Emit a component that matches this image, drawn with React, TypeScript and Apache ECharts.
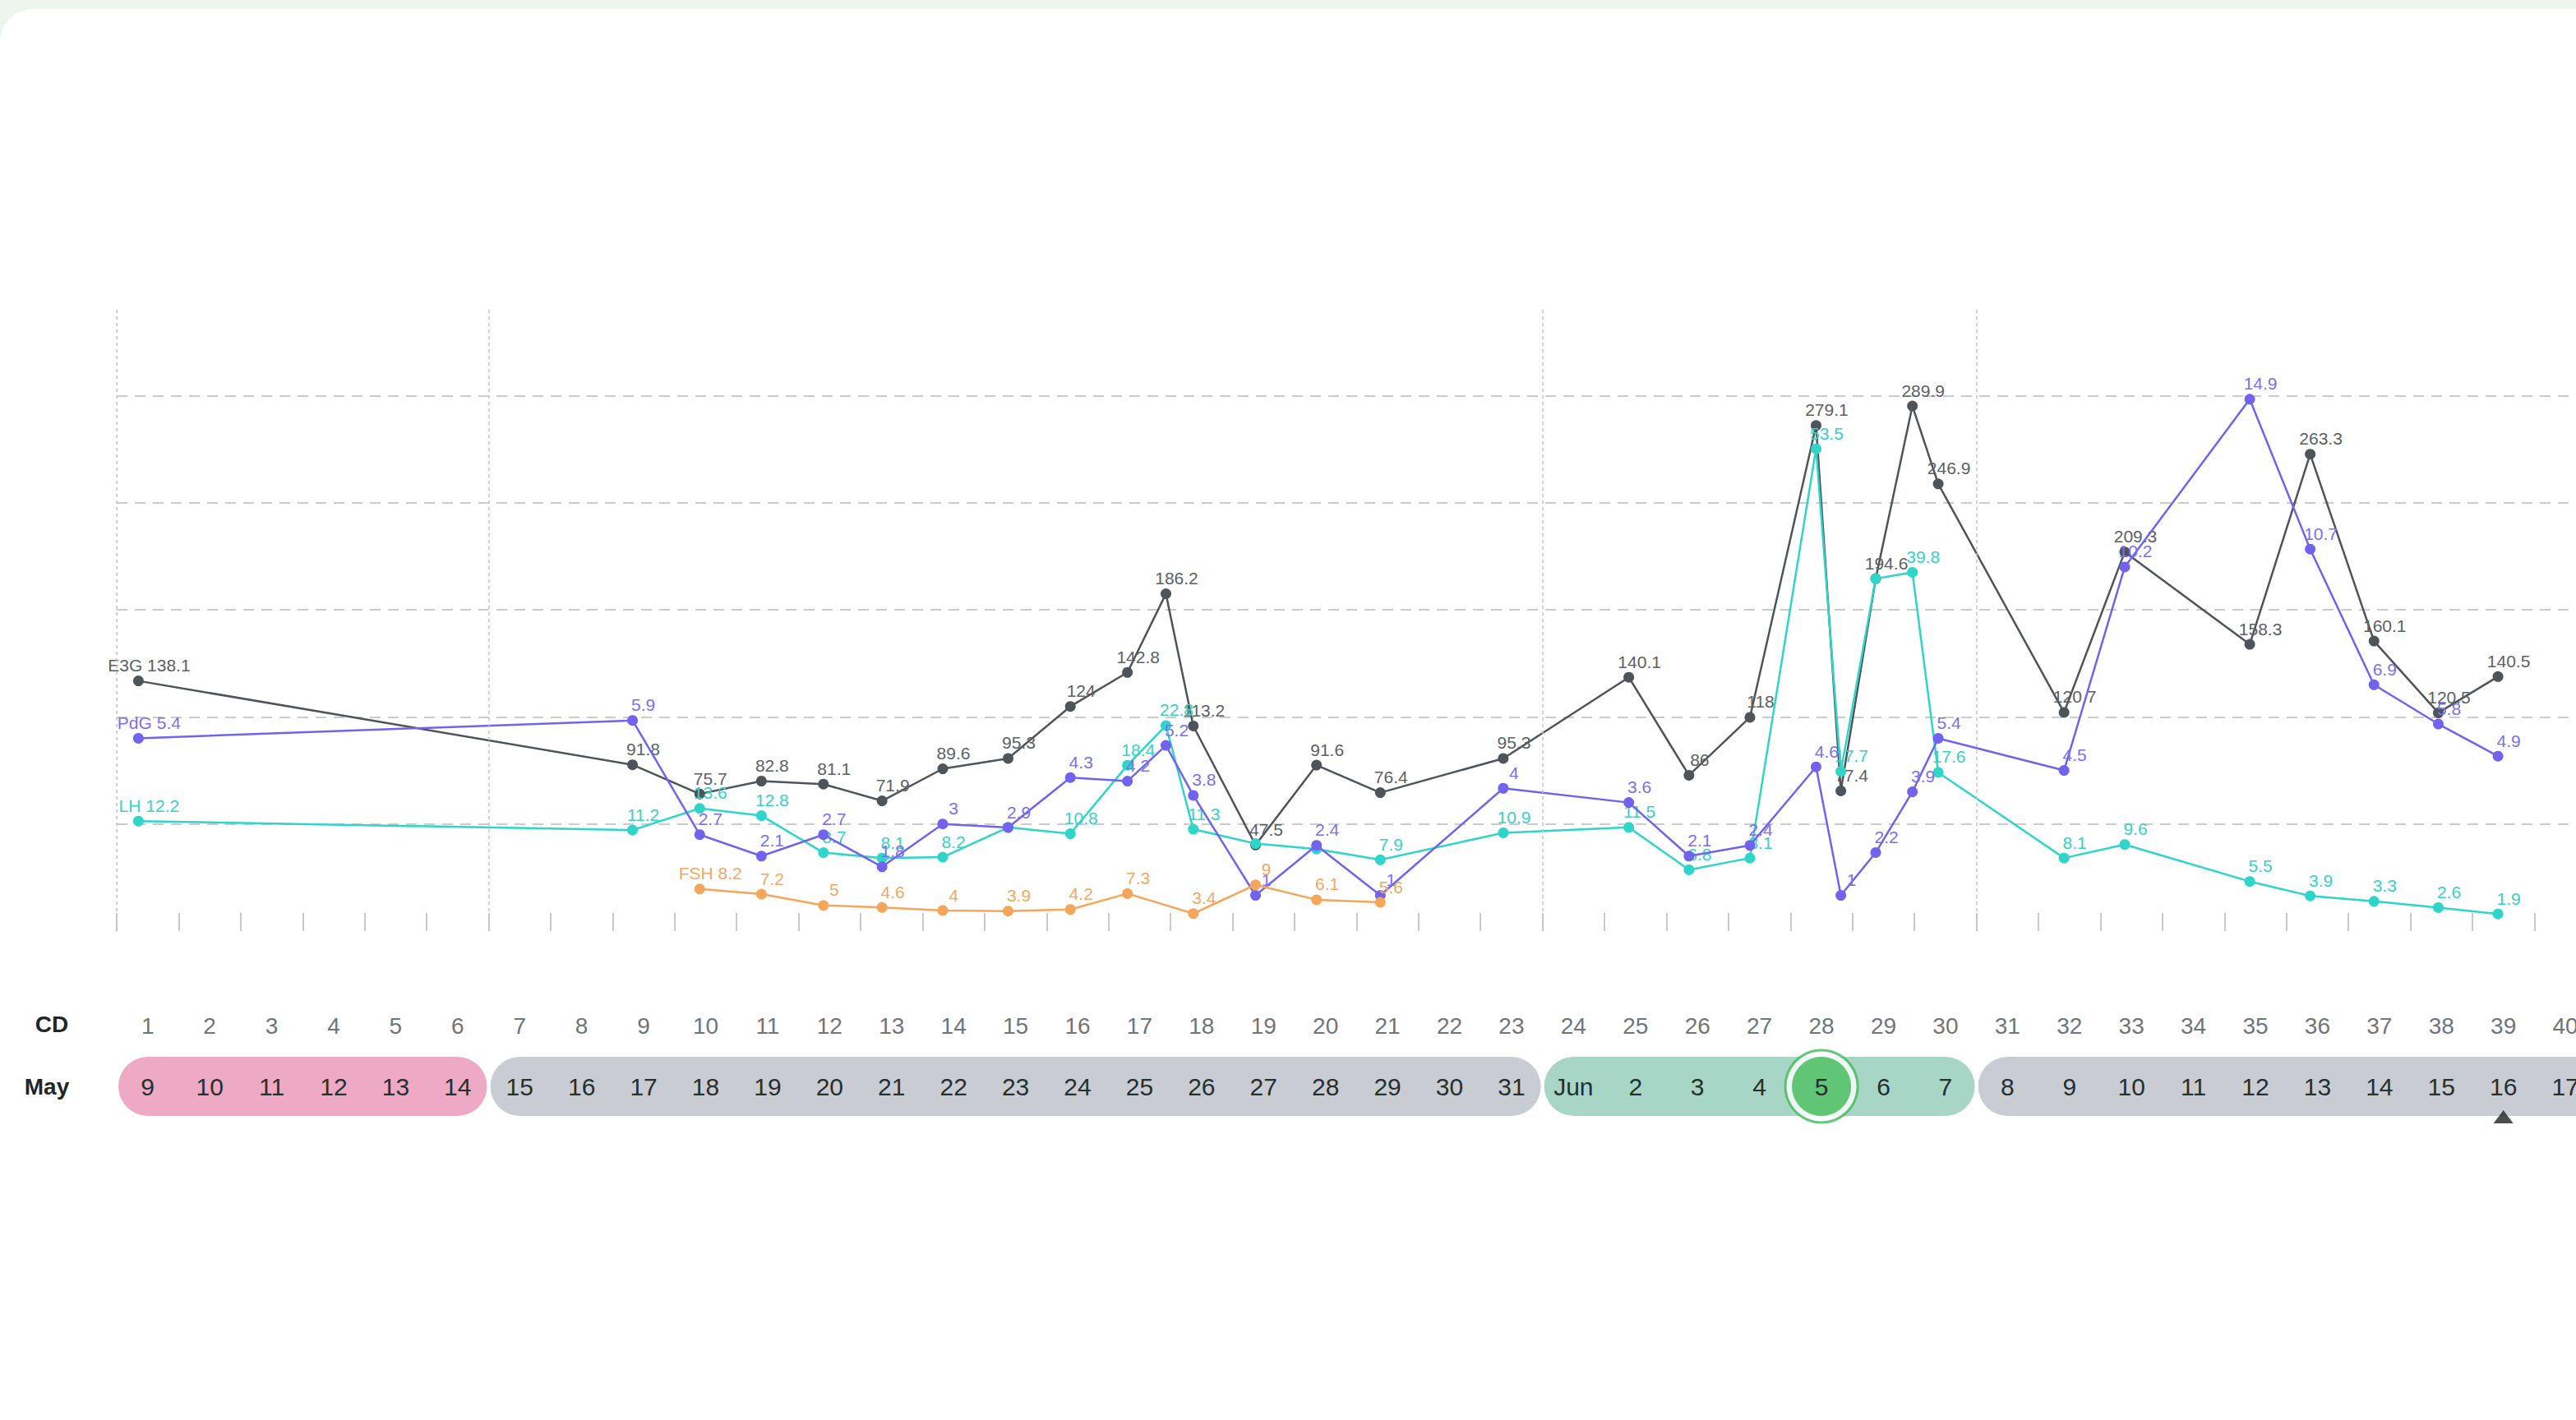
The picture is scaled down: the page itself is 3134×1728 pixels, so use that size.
import React, { useEffect, useRef } from "react";
import * as echarts from "echarts";

// ---- cycle-day row and calendar row ----
const cdLabels = ["1","2","3","4","5","6","7","8","9","10","11","12","13","14","15","16","17","18","19","20","21","22","23","24","25","26","27","28","29","30","31","32","33","34","35","36","37","38","39","40"];
const dateLabels = ["9","10","11","12","13","14","15","16","17","18","19","20","21","22","23","24","25","26","27","28","29","30","31","Jun","2","3","4","5","6","7","8","9","10","11","12","13","14","15","16","17"];
const monthLabel = "May";
const rowLabel = "CD";

// ---- cycle phases (cycle days, inclusive) ----
const phaseStarts = [1, 7, 24, 31];
const phaseEnds = [6, 23, 30, 41];
const phaseColors = ["#eeaac4", "#c9cdd3", "#a8d6c6", "#c9cdd3"];
const peakDay = 28;
const todayDay = 39;

// ---- test sessions: cycle day and hour of the test ----
const sessionDays = [1, 9, 10, 11, 12, 13, 14, 15, 16, 17, 17, 18, 19, 20, 21, 23, 25, 26, 27, 28, 28, 29, 29, 30, 32, 33, 35, 36, 37, 38, 39];
const sessionHours = [8.4, 7.7, 9.7, 9.6, 9.6, 8.3, 7.8, 9.1, 9.2, 7.3, 22.2, 8.8, 8.9, 8.5, 9.2, 8.8, 9.4, 8.7, 8.3, 9.9, 19.5, 9.0, 23.2, 9.2, 9.9, 9.4, 9.8, 9.2, 9.9, 10.8, 9.9];

// ---- hormone values per session ----
const e3gValues = [138.1, 91.8, 75.7, 82.8, 81.1, 71.9, 89.6, 95.3, 124, 142.8, 186.2, 113.2, 47.5, 91.6, 76.4, 95.3, 140.1, 86, 118, 279.1, 77.4, 194.6, 289.9, 246.9, 120.7, 209.3, 158.3, 263.3, 160.1, 120.5, 140.5];
const pdgValues = [5.4, 5.9, 2.7, 2.1, 2.7, 1.8, 3, 2.9, 4.3, 4.2, 5.2, 3.8, 1, 2.4, 1, 4, 3.6, 2.1, 2.4, 4.6, 1, 2.2, 3.9, 5.4, 4.5, 10.2, 14.9, 10.7, 6.9, 5.8, 4.9];
const lhValues = [12.2, 11.2, 13.6, 12.8, 8.7, 8.1, 8.2, 11.5, 10.8, 18.4, 22.8, 11.3, 9.7, 9.1, 7.9, 10.9, 11.5, 6.8, 8.1, 53.5, 17.7, 39.1, 39.8, 17.6, 8.1, 9.6, 5.5, 3.9, 3.3, 2.6, 1.9];
const fshValues: (number | null)[] = [null, null, 8.2, 7.2, 5, 4.6, 4, 3.9, 4.2, 7.3, null, 3.4, 9, 6.1, 5.6, null, null, null, null, null, null, null, null, null, null, null, null, null, null, null, null];
const lhHiddenLabels = [7, 12, 13, 21];

const FONT = "Liberation Sans";

function buildData(values: (number | null)[], hidden: number[] = []) {
  const out: any[] = [];
  values.forEach((v, i) => {
    if (v === null || v === undefined) return;
    const x = sessionDays[i] - 1 + sessionHours[i] / 24;
    const item: any = { value: [x, v] };
    if (hidden.includes(i)) item.label = { show: false };
    out.push(item);
  });
  return out;
}

function lineSeries(name: string, values: (number | null)[], color: string, labelColor: string, yAxisIndex: number, z: number, hidden: number[] = [], extra: any = {}) {
  return {
    type: "line",
    name,
    xAxisIndex: 0,
    yAxisIndex,
    data: buildData(values, hidden),
    symbol: "circle",
    symbolSize: 13,
    showSymbol: true,
    lineStyle: { color, width: 2.5 },
    itemStyle: { color },
    label: {
      show: true,
      position: "top",
      distance: 2,
      offset: [13, 0],
      color: labelColor,
      fontSize: 21,
      fontFamily: FONT,
      formatter: (p: any) => (p.dataIndex === 0 ? name + " " : "") + p.value[1],
    },
    emphasis: { disabled: true },
    silent: true,
    z,
    ...extra,
  };
}

const GRID_LEFT = 142;
const GRID_WIDTH = 3016.8;
const CANVAS_W = 3180;

export default function App() {
  const ref = useRef<HTMLDivElement>(null);
  useEffect(() => {
    if (!ref.current) return;
    const chart = echarts.init(ref.current, undefined, { renderer: "svg" });
    const boundaries = phaseStarts.map((s) => s - 1);
    const option: any = {
      animation: false,
      backgroundColor: "transparent",
      textStyle: { fontFamily: FONT },
      grid: [
        { left: GRID_LEFT, width: GRID_WIDTH, top: 375, height: 758, outerBoundsMode: "none" },
        { left: GRID_LEFT, width: GRID_WIDTH, top: 1286, height: 72, outerBoundsMode: "none" },
      ],
      xAxis: [
        {
          type: "value", gridIndex: 0, min: 0, max: 40, interval: 1,
          axisLine: { show: false },
          axisTick: { show: true, inside: true, length: 22, lineStyle: { color: "#cacaca", width: 2 } },
          axisLabel: { show: false },
          splitLine: { show: false },
        },
        { type: "value", gridIndex: 1, min: 0, max: 40, show: false },
        {
          type: "category", gridIndex: 1, position: "top", data: cdLabels, boundaryGap: true,
          axisLine: { show: false }, axisTick: { show: false }, splitLine: { show: false },
          axisLabel: { show: true, interval: 0, margin: 24, color: "#707579", fontSize: 28, fontFamily: FONT },
        },
      ],
      yAxis: [
        {
          type: "value", gridIndex: 0, min: 0, max: 17.45, interval: 3,
          axisLine: { show: false }, axisTick: { show: false }, axisLabel: { show: false },
          splitLine: { show: true, showMinLine: false, showMaxLine: false, lineStyle: { color: "#cbcbcb", type: [13, 9], width: 2 } },
        },
        { type: "value", gridIndex: 0, min: 0, max: 343.9, show: false, splitLine: { show: false } },
        { type: "value", gridIndex: 0, min: 0, max: 69.1, show: false, splitLine: { show: false } },
        { type: "value", gridIndex: 0, min: 0, max: 121.3, show: false, splitLine: { show: false } },
        { type: "value", gridIndex: 1, min: 0, max: 1, show: false, splitLine: { show: false } },
      ],
      graphic: {
        elements: [
          { type: "rect", z: -10, silent: true, shape: { x: 0, y: 11, width: 3175, height: 1800, r: 40 }, style: { fill: "#ffffff" } },
          { type: "text", x: 63, y: 1246, silent: true, style: { text: rowLabel, fill: "#1c2727", font: `bold 28px "${FONT}"`, align: "center", verticalAlign: "middle" } },
          { type: "text", x: 57, y: 1322, silent: true, style: { text: monthLabel, fill: "#1c2727", font: `bold 28px "${FONT}"`, align: "center", verticalAlign: "middle" } },
        ],
      },
      series: [
        lineSeries("E3G", e3gValues, "#4e545a", "#5b6166", 1, 2, [], {
          markLine: {
            silent: true,
            symbol: ["none", "none"],
            label: { show: false },
            lineStyle: { color: "#c2c2c2", type: [4, 4], width: 1.5 },
            data: boundaries.map((b) => ({ xAxis: b })),
          },
        }),
        lineSeries("LH", lhValues, "#2fd5c8", "#38d1c5", 2, 3, lhHiddenLabels),
        lineSeries("PdG", pdgValues, "#7163ee", "#7c6ff0", 0, 4),
        lineSeries("FSH", fshValues, "#f5a65b", "#f0a964", 3, 5),
        {
          type: "custom", name: "phases", xAxisIndex: 1, yAxisIndex: 4, z: 1, silent: true,
          data: phaseStarts.map((s, i) => [s, phaseEnds[i], i]),
          renderItem: (_params: any, api: any) => {
            const s = api.value(0), e = api.value(1), k = api.value(2);
            const p0 = api.coord([s - 1, 1]);
            const p1 = api.coord([e, 0]);
            const h = p1[1] - p0[1];
            return {
              type: "rect",
              shape: { x: p0[0] + 2, y: p0[1], width: p1[0] - p0[0] - 4, height: h, r: h / 2 },
              style: { fill: phaseColors[k] },
            };
          },
        },
        {
          type: "scatter", xAxisIndex: 1, yAxisIndex: 4, z: 2, silent: true, clip: false,
          data: [[peakDay - 0.5, 0.5]], symbol: "circle", symbolSize: 88,
          itemStyle: { color: "#ffffff", borderColor: "#3cb955", borderWidth: 3 },
        },
        {
          type: "scatter", xAxisIndex: 1, yAxisIndex: 4, z: 3, silent: true, clip: false,
          data: [[peakDay - 0.5, 0.5]], symbol: "circle", symbolSize: 72,
          itemStyle: { color: "#3cb955" },
        },
        {
          type: "custom", name: "dates", xAxisIndex: 1, yAxisIndex: 4, z: 4, silent: true,
          data: dateLabels.map((_, i) => [i + 0.5, 0.5]),
          renderItem: (params: any, api: any) => {
            const c = api.coord([api.value(0), api.value(1)]);
            return {
              type: "text",
              x: c[0], y: c[1],
              style: { text: dateLabels[params.dataIndex], fill: "#25302f", fontSize: 30, fontFamily: FONT, align: "center", verticalAlign: "middle" },
            };
          },
        },
        {
          type: "scatter", xAxisIndex: 1, yAxisIndex: 4, z: 4, silent: true, clip: false,
          data: [[todayDay - 0.5, -0.015]], symbol: "triangle", symbolSize: [24, 16],
          itemStyle: { color: "#1a2323" },
        },
      ],
    };
    chart.setOption(option);
    return () => chart.dispose();
  }, []);
  return (
    <div
      ref={ref}
      style={{ position: "fixed", left: 0, top: 0, width: CANVAS_W, height: 1728, background: "#eef5ef" }}
    />
  );
}
